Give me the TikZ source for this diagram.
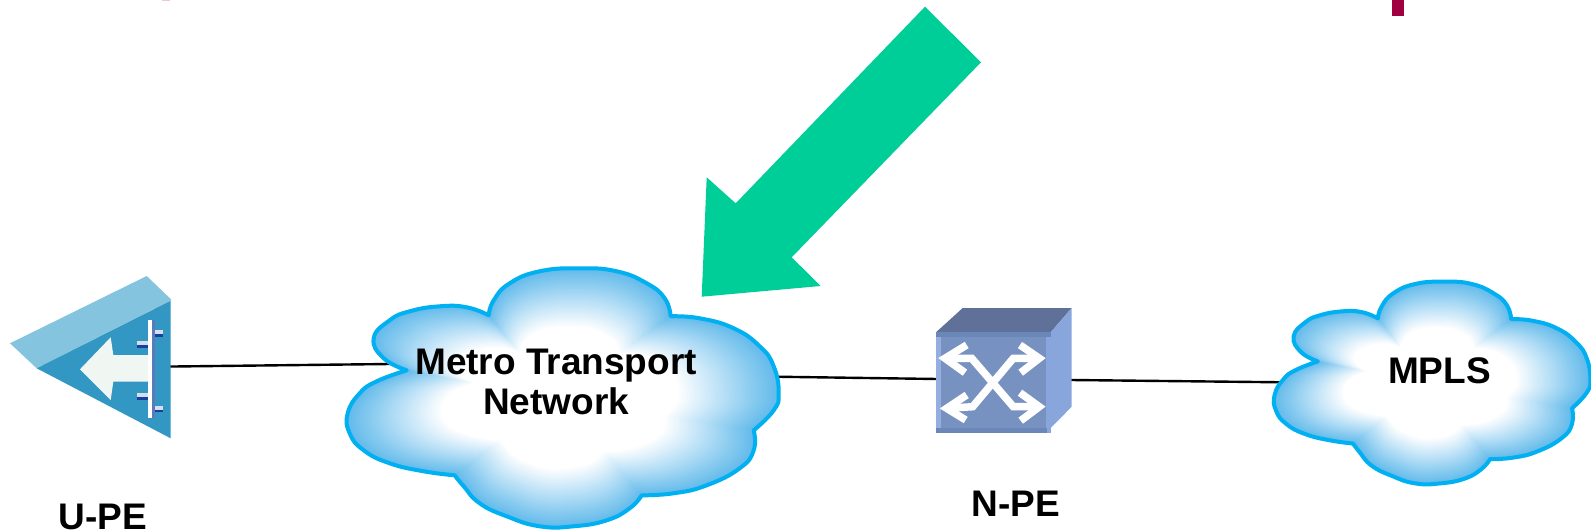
\documentclass[tikz,border=0pt]{standalone}
\usepackage{fontspec}
\setmainfont{Liberation Sans}
\definecolor{cloudrim}{HTML}{00B0F0}
\definecolor{cloudblue}{HTML}{62BAEB}
\definecolor{arrowgreen}{HTML}{00CE98}
\definecolor{topmaroon}{HTML}{A00040}
\definecolor{toppink}{HTML}{F3C6D6}
\definecolor{upelight}{HTML}{85C4DE}
\definecolor{upedark}{HTML}{3397C4}
\definecolor{upewhite}{HTML}{F0F6F2}
\definecolor{upebar}{HTML}{5A7AB8}
\definecolor{upetick}{HTML}{1540A0}
\definecolor{npefront}{HTML}{7792C1}
\definecolor{npetop}{HTML}{5F7199}
\definecolor{npeside}{HTML}{88A5DC}
\definecolor{npeedge}{HTML}{6B86B8}
\tikzset{
  label/.style={text centered, font=\fontsize{37}{40}\selectfont\bfseries, inner sep=0pt},
  edge/.style={line width=2.4pt, black},
  npearrow/.style={white, line width=7.5pt, line join=miter},
  upeticktop/.style={fill=white!75!upebar},
  upetickbot/.style={fill=upetick}
}
% same outline for both clouds, around (0,0)
\newcommand{\cloudoutline}{
  plot[smooth, tension=.8] coordinates {(-150,-28) (-173,-40) (-183,-60) (-167,-78) (-147,-87) (-117,-92) (-90,-91) (-68,-83)}
  -- plot[smooth, tension=.8] coordinates {(-68,-83) (-63,-98) (-47,-115) (-17,-127) (23,-130) (60,-127) (90,-115) (108,-100) (114,-82)}
  -- plot[smooth, tension=.8] coordinates {(114,-82) (143,-80) (177,-70) (203,-52) (217,-32) (222,-5) (217,12) (197,32)}
  -- plot[smooth, tension=.8] coordinates {(197,32) (197,52) (183,70) (150,87) (117,95) (85,97)}
  -- plot[smooth, tension=.8] coordinates {(85,97) (73,110) (50,122) (17,128) (-17,128) (-50,118) (-77,105) (-93,88) (-102,77)}
  -- plot[smooth, tension=.8] coordinates {(-102,77) (-133,73) (-167,65) (-193,52) (-207,35) (-209,15) (-197,-5) (-180,-17) (-150,-28)}
  -- cycle}
\newcommand{\cloudshape}[3]{
  \begin{scope}[shift={#1}, xscale=#2, yscale=#3]
    \foreach \i in {0,...,40}{
      \pgfmathsetmacro{\s}{1-.45*\i/40}
      \pgfmathsetmacro{\p}{100-2.5*\i}
      \fill[cloudblue!\p!white, scale=\s] \cloudoutline;
    }
    \draw[cloudrim, line width=4pt, line join=round] \cloudoutline;
  \end{scope}
}
\begin{document}
\begin{tikzpicture}[x=1pt, y=-1pt]
  \useasboundingbox (0,0) rectangle (1591,532);

  % top edge %
  \fill[toppink] (162,0) rectangle (170,1);
  \fill[topmaroon] (1392,0) rectangle (1404,16);

  % green arrow %
  \fill[arrowgreen] (925,6.7) -- (981,62.3) -- (791.7,257.3) -- (820.7,286) -- (701.7,296.7) -- (706.7,177.3) -- (735.7,203.3) -- cycle;

  % anchors %
  \coordinate (upeport) at (165,366.6);
  \coordinate (metroleft) at (390,364);
  \coordinate (metroright) at (775,376.7);
  \coordinate (npeleft) at (937,379);
  \coordinate (nperight) at (1071,380);
  \coordinate (mplsleft) at (1284,382.3);

  % edges %
  \draw[edge] (upeport) -- (metroleft);
  \draw[edge] (metroright) -- (npeleft);
  \draw[edge] (nperight) -- (mplsleft);

  % clouds %
  \cloudshape{(556.7,398.3)}{1}{1}
  \cloudshape{(1427.7,383.3)}{.7326}{.782}

  % u-pe %
  \fill[upelight] (10,343.3) -- (146.7,276) -- (171.7,300) -- (36.7,368.3) -- cycle;
  \fill[upedark] (36.7,368.3) -- (170.7,300.7) -- (170.7,438.3) -- cycle;
  \fill[upewhite] (80,369.3) -- (110.7,337.3) -- (113.3,355) -- (150,355) -- (150,381.7) -- (113.3,381.7) -- (110.7,400) -- cycle;
  \fill[white] (148.3,320) rectangle (151.7,418.3);
  \fill[upebar] (151.7,320) rectangle (155,418.3);
  \fill[upeticktop] (155,330) rectangle (163.3,334);
  \fill[upetickbot] (155,334) rectangle (163.3,337);
  \fill[upeticktop] (136.7,341) rectangle (148.3,345);
  \fill[upetickbot] (136.7,345) rectangle (148.3,348);
  \fill[upeticktop] (136.7,393.3) rectangle (148.3,397);
  \fill[upetickbot] (136.7,397) rectangle (148.3,400);
  \fill[upeticktop] (155,405.7) rectangle (163.3,409.7);
  \fill[upetickbot] (155,409.7) rectangle (163.3,412.3);

  % n-pe %
  \fill[npetop] (936,332.3) -- (962.7,308) -- (1071.7,308) -- (1050.7,332.3) -- cycle;
  \fill[npeside] (1050.7,332.3) -- (1071.7,308) -- (1071.7,406.7) -- (1050.7,428) -- cycle;
  \fill[npefront] (936,332.3) rectangle (1050.7,433.3);
  \fill[npeside!90!white] (936,332.3) rectangle (941.3,433.3);
  \fill[npeside] (1045.7,332.3) rectangle (1050.7,433.3);
  \fill[npeedge] (936,332.3) rectangle (1050.7,337);
  \fill[npeedge] (936,428) rectangle (1047,433.3);
  \draw[npearrow] (945,358.3) -- (971.7,358.3) -- (1013.3,406.7) -- (1039.3,406.7);
  \draw[npearrow] (1039.3,358.3) -- (1013.3,358.3) -- (972.7,406.7) -- (946.7,408.3);
  \draw[npearrow] (966.7,345) -- (945,358.3) -- (965,372.7);
  \draw[npearrow] (1020,345) -- (1039.3,358.3) -- (1020.7,372.7);
  \draw[npearrow] (966.7,395) -- (946.7,408.3) -- (965.7,420);
  \draw[npearrow] (1020,392.7) -- (1039.3,406.7) -- (1020.7,420.7);

  % nodes %
  \node[label, align=center] (metro) at (556,382) {Metro Transport\\Network};
  \node[label, anchor=base] (mpls) at (1439.5,383.3) {MPLS};
  \node[label, anchor=base] (upe) at (103,529.3) {U-PE};
  \node[label, anchor=base] (npe) at (1015.6,516) {N-PE};
\end{tikzpicture}
\end{document}
